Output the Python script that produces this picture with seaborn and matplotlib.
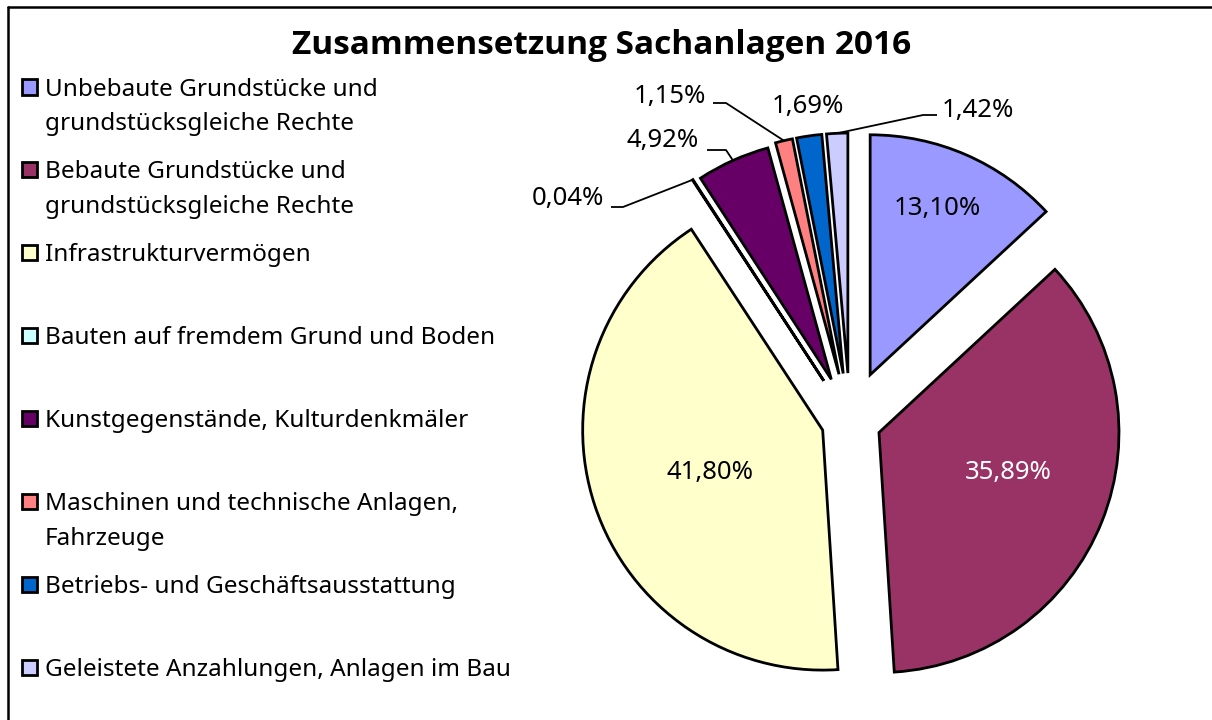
import numpy as np
import matplotlib
matplotlib.use("Agg")
import matplotlib.pyplot as plt
import seaborn as sns
from matplotlib.patches import Rectangle
from matplotlib.lines import Line2D

# ---------------- data ----------------
title = "Zusammensetzung Sachanlagen 2016"
categories = [
    "Unbebaute Grundstücke und\ngrundstücksgleiche Rechte",
    "Bebaute Grundstücke und\ngrundstücksgleiche Rechte",
    "Infrastrukturvermögen",
    "Bauten auf fremdem Grund und Boden",
    "Kunstgegenstände, Kulturdenkmäler",
    "Maschinen und technische Anlagen,\nFahrzeuge",
    "Betriebs- und Geschäftsausstattung",
    "Geleistete Anzahlungen, Anlagen im Bau",
]
values = [13.10, 35.89, 41.80, 0.04, 4.92, 1.15, 1.69, 1.42]
pct_labels = ["13,10%", "35,89%", "41,80%", "0,04%", "4,92%", "1,15%", "1,69%", "1,42%"]
colors = ["#9999FF", "#993366", "#FFFFCC", "#CCFFFF", "#660066", "#FF8080", "#0066CC", "#CCCCFF"]

# ---------------- style / layout ----------------
explode = [0.21, 0.13, 0.12, 0.20, 0.19, 0.20, 0.20, 0.20]

sns.set_theme(style="white")
plt.rcParams['font.family'] = ['Noto Sans', 'DejaVu Sans']

W, H = 1212, 720
fig = plt.figure(figsize=(W / 100, H / 100), dpi=100)
fig.patch.set_facecolor("white")


def fx(x):
    return x / W


def fy(y):
    return 1 - y / H


# frame (only top and left edges visible)
fig.add_artist(Line2D([fx(8), fx(1212)], [fy(7), fy(7)], color="black", lw=1.8))
fig.add_artist(Line2D([fx(8), fx(8)], [fy(7), fy(720)], color="black", lw=1.8))

# title
fig.text(fx(602), fy(45), title, ha="center", va="center",
         fontsize=24, fontweight="bold", color="black",
         family=["Open Sans", "DejaVu Sans"])

# pie axes: centre and radius in pixels
CX, CY, R = 850, 421, 240
ax_l, ax_r, ax_t, ax_b = 540, 1205, 70, 715
ax = fig.add_axes([fx(ax_l), fy(ax_b), (ax_r - ax_l) / W, (ax_b - ax_t) / H])
wedges, _ = ax.pie(values, colors=colors, explode=explode, startangle=90,
                   counterclock=False, radius=1,
                   wedgeprops=dict(edgecolor="black", linewidth=2.0))
ax.set_xlim((ax_l - CX) / R, (ax_r - CX) / R)
ax.set_ylim((CY - ax_b) / R, (CY - ax_t) / R)
ax.set_aspect("auto")
ax.axis("off")


def d(xp, yp):
    return ((xp - CX) / R, (CY - yp) / R)


def mid_dir(w):
    m = np.deg2rad((w.theta1 + w.theta2) / 2)
    return np.cos(m), np.sin(m)


LABEL_FS = 18.5

# inside labels: text centre (px), colour
inside = {0: ((937, 208), "black"), 1: ((1008, 472), "white"), 2: ((710, 472), "black")}
for i, (tpos, col) in inside.items():
    ax.text(*d(*tpos), pct_labels[i], ha="center", va="center",
            fontsize=LABEL_FS, color=col)

# outside labels: text centre (px), leader start (px), elbow (px)
outside = {
    3: ((568, 199), (611, 207), (623, 207)),
    4: ((663, 141), (707, 150), (726, 150)),
    5: ((670, 97), (713, 103), (726, 103)),
    6: ((808, 107), None, None),
    7: ((978, 110), (937, 115), (923, 115)),
}
for i, (tpos, lstart, elbow) in outside.items():
    ax.text(*d(*tpos), pct_labels[i], ha="center", va="center",
            fontsize=LABEL_FS, color="black")
    if lstart is not None:
        w = wedges[i]
        c, s = mid_dir(w)
        cx, cy = w.center
        ex, ey = cx + w.r * c, cy + w.r * s
        p0 = d(*lstart)
        p1 = d(*elbow)
        ax.plot([p0[0], p1[0], ex], [p0[1], p1[1], ey], color="black", lw=1.3,
                solid_capstyle="butt")

# legend (manual, Excel-like)
y0, step, line_gap = 87, 82.9, 35
for i, (lab, col) in enumerate(zip(categories, colors)):
    yc = y0 + i * step
    fig.add_artist(Rectangle((fx(22), fy(yc + 7.5)), 15 / W, 15 / H,
                             facecolor=col, edgecolor="black", lw=2.0,
                             transform=fig.transFigure))
    for k, line in enumerate(lab.split("\n")):
        fig.text(fx(45), fy(yc + 8.5 + k * line_gap), line, ha="left", va="baseline",
                 fontsize=17.5, color="black")

fig.savefig("out.png", dpi=100, facecolor="white")
